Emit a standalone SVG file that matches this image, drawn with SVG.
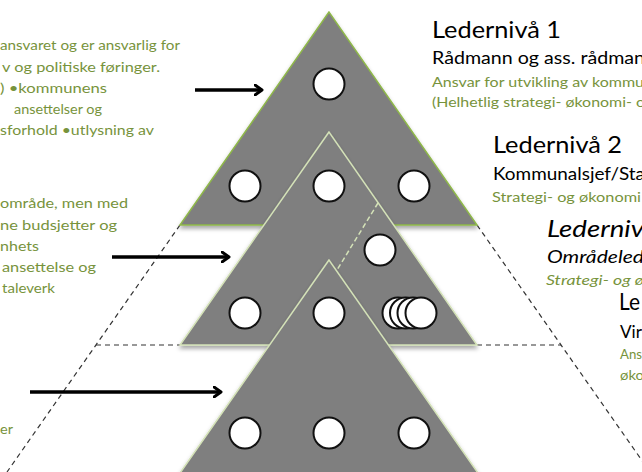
<svg xmlns="http://www.w3.org/2000/svg" width="642" height="472" viewBox="0 0 642 472">
<style>
.tri1{fill:#7f7f7f;stroke:#8fb84a;stroke-width:1.5;stroke-linejoin:miter}
.tri2{fill:#7f7f7f;stroke:#d4e2b8;stroke-width:1.5;stroke-linejoin:miter}
.dot{fill:#fff;stroke:#111;stroke-width:2}
.dash{fill:none;stroke:#333;stroke-width:1.2;stroke-dasharray:5 4}
.idash{fill:none;stroke:#d4e2b8;stroke-width:1.5;stroke-dasharray:5 3}
.arrow{fill:none;stroke:#000;stroke-width:3.5;marker-end:url(#head)}
text{font-family:Lato,"Liberation Sans",sans-serif}
.g{fill:#77933c;font-size:14px}
.h{fill:#000;font-size:24px}
.s{fill:#000;font-size:18px}
.i{font-style:italic}
</style>
<defs>
<filter id="sh" x="-10%" y="-10%" width="120%" height="125%">
<feDropShadow dx="0" dy="3" stdDeviation="2" flood-color="#000" flood-opacity="0.35"/>
</filter>
<marker id="head" viewBox="0 0 10 12" refX="8" refY="6" markerWidth="10" markerHeight="12" markerUnits="userSpaceOnUse" orient="auto">
<path d="M1,1 L8,6 L1,11" fill="none" stroke="#000" stroke-width="3" stroke-linecap="round" stroke-linejoin="round"/>
</marker>
</defs>

<g id="guides">
<path class="dash" d="M180,225 L7,472"/>
<path class="dash" d="M477,225 L650,472"/>
<path class="dash" d="M96,345 L180,345"/>
<path class="dash" d="M477,345 L561,345"/>
</g>

<g id="level1">
<polygon class="tri1" filter="url(#sh)" points="329,12 180,225 477,225"/>
</g>
<g id="level2">
<polygon class="tri2" filter="url(#sh)" points="329,132 180,345 477,345"/>
<path class="idash" d="M378,203 L337,270"/>
</g>
<g id="level3">
<polygon class="tri2" filter="url(#sh)" points="329,260 180,473 478,473"/>
</g>

<g id="circles">
<circle class="dot" cx="329" cy="84" r="15.5"/>
<circle class="dot" cx="245" cy="186" r="15.5"/>
<circle class="dot" cx="329" cy="186" r="15.5"/>
<circle class="dot" cx="414" cy="186" r="15.5"/>
<circle class="dot" cx="380" cy="250" r="15.5"/>
<circle class="dot" cx="245" cy="313" r="15.5"/>
<circle class="dot" cx="329" cy="313" r="15.5"/>
<circle class="dot" cx="398" cy="313" r="15.5"/>
<circle class="dot" cx="405.5" cy="313" r="15.5"/>
<circle class="dot" cx="413" cy="313" r="15.5"/>
<circle class="dot" cx="421" cy="313" r="15.5"/>
<circle class="dot" cx="245" cy="433" r="15.5"/>
<circle class="dot" cx="329" cy="433" r="15.5"/>
<circle class="dot" cx="414" cy="433" r="15.5"/>
</g>

<g id="connectors">
<line class="arrow" x1="195" y1="90" x2="262" y2="90"/>
<line class="arrow" x1="112" y1="257" x2="229" y2="257"/>
<line class="arrow" x1="30" y1="392" x2="221" y2="392"/>
</g>

<g id="left-text">
<text class="g" x="0" y="50" textLength="180" lengthAdjust="spacingAndGlyphs">ansvaret og er ansvarlig for</text>
<text class="g" x="2" y="72" textLength="158" lengthAdjust="spacingAndGlyphs">v og politiske føringer.</text>
<text class="g" x="0" y="93" textLength="107" lengthAdjust="spacingAndGlyphs">) •kommunens</text>
<text class="g" x="14" y="114" textLength="88" lengthAdjust="spacingAndGlyphs">ansettelser og</text>
<text class="g" x="0" y="135" textLength="154" lengthAdjust="spacingAndGlyphs">sforhold •utlysning av</text>
<text class="g" x="0" y="208" textLength="128" lengthAdjust="spacingAndGlyphs">område, men med</text>
<text class="g" x="0" y="230" textLength="117" lengthAdjust="spacingAndGlyphs">ne budsjetter og</text>
<text class="g" x="0" y="251" textLength="39" lengthAdjust="spacingAndGlyphs">nhets</text>
<text class="g" x="2" y="272" textLength="94" lengthAdjust="spacingAndGlyphs">ansettelse og</text>
<text class="g" x="2" y="293" textLength="53" lengthAdjust="spacingAndGlyphs">taleverk</text>
<text class="g" x="0" y="434" textLength="13" lengthAdjust="spacingAndGlyphs">er</text>
</g>

<g id="level1-text">
<text class="h" x="432" y="38" textLength="129" lengthAdjust="spacingAndGlyphs">Ledernivå 1</text>
<text class="s" x="432" y="64" textLength="213" lengthAdjust="spacingAndGlyphs">Rådmann og ass. rådman</text>
<text class="g" x="432" y="87" textLength="212" lengthAdjust="spacingAndGlyphs">Ansvar for utvikling av kommu</text>
<text class="g" x="432" y="107" textLength="213" lengthAdjust="spacingAndGlyphs">(Helhetlig strategi- økonomi- o</text>
</g>
<g id="level2-text">
<text class="h" x="493" y="153" textLength="129" lengthAdjust="spacingAndGlyphs">Ledernivå 2</text>
<text class="s" x="493" y="180" textLength="152" lengthAdjust="spacingAndGlyphs">Kommunalsjef/Sta</text>
<text class="g" x="492" y="202" textLength="149" lengthAdjust="spacingAndGlyphs">Strategi- og økonomi</text>
</g>
<g id="level3-text">
<text class="h i" x="547" y="237" textLength="97" lengthAdjust="spacingAndGlyphs">Lederniv</text>
<text class="s i" x="547" y="263" textLength="97" lengthAdjust="spacingAndGlyphs">Områdeled</text>
<text class="g i" x="546" y="285" textLength="98" lengthAdjust="spacingAndGlyphs">Strategi- og ø</text>
</g>
<g id="level4-text">
<text class="h" x="619" y="310" textLength="21" lengthAdjust="spacingAndGlyphs">Le</text>
<text class="s" x="620" y="338" textLength="22" lengthAdjust="spacingAndGlyphs">Vir</text>
<text class="g" x="620" y="359" textLength="22" lengthAdjust="spacingAndGlyphs">Ans</text>
<text class="g" x="620" y="380" textLength="24" lengthAdjust="spacingAndGlyphs">øko</text>
</g>
</svg>
